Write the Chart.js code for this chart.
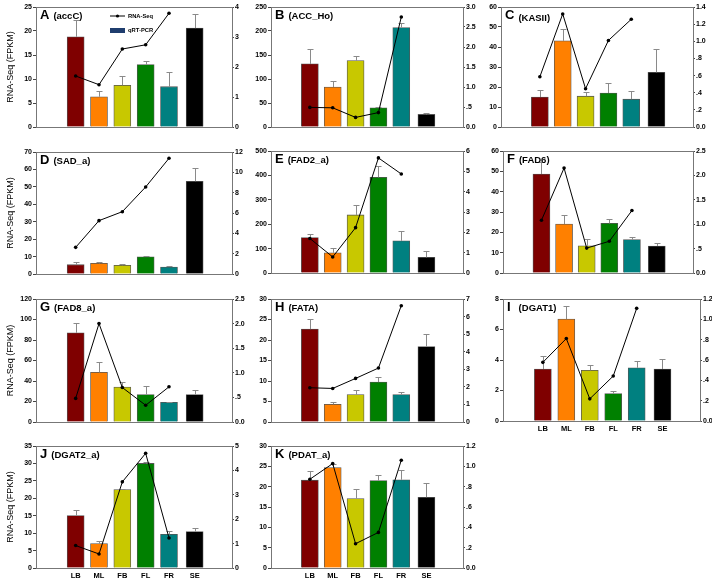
<!DOCTYPE html>
<html>
<head>
<meta charset="utf-8">
<script src="https://cdn.jsdelivr.net/npm/chart.js@4.4.1/dist/chart.umd.min.js"></script>
<style>
  body { margin: 0; background: #fff; width: 712px; height: 583px; position: relative; overflow: hidden; }
  canvas { position: absolute; }
</style>
</head>
<body>
<script>
// tissues / stages
const stages = ['LB', 'ML', 'FB', 'FL', 'FR', 'SE'];
const barColors = ['#7f0000', '#ff8000', '#c8c800', '#008000', '#008080', '#000000'];

// bars (left axis, FPKM), their error and the line (right axis)
const accC_bar = [18.8, 6.3, 8.7, 13.0, 8.4, 20.6];
const accC_err = [3.5, 1.3, 2.0, 0.8, 3.0, 3.0];
const accC_line = [1.70, 1.41, 2.60, 2.74, 3.79];

const accHo_bar = [131.5, 83.3, 138.4, 40, 207.3, 26.2];
const accHo_err = [31, 12.4, 9.6, 2, 10.3, 3.4];
const accHo_line = [0.49, 0.48, 0.24, 0.36, 2.75];

const kasII_bar = [15.0, 43.1, 15.4, 17.0, 13.9, 27.3];
const kasII_err = [3.3, 6, 2, 5.1, 4.1, 11.9];
const kasII_line = [0.586, 1.319, 0.447, 1.01, 1.257];

const sad_bar = [5.35, 6.1, 5.0, 9.9, 4.0, 53.2];
const sad_err = [1.3, 1.0, 0.5, 0.4, 0.4, 7.8];
const sad_line = [2.62, 5.25, 6.13, 8.56, 11.38];

const fad2_bar = [145, 83, 238, 392, 132, 64];
const fad2_err = [15, 19, 42, 48, 41, 27];
const fad2_line = [1.70, 0.79, 2.23, 5.66, 4.87];

const fad6_bar = [48.7, 24.1, 13.4, 24.4, 16.4, 13.3];
const fad6_err = [6, 4.3, 3.5, 2.2, 1.5, 1.6];
const fad6_line = [1.08, 2.15, 0.51, 0.65, 1.28];

const fad8_bar = [87, 48.4, 34, 26.8, 19.3, 26.8];
const fad8_err = [9.5, 9.8, 5.2, 7.9, 0.6, 4.9];
const fad8_line = [0.48, 2.0, 0.70, 0.34, 0.715];

const fata_bar = [22.65, 4.33, 6.7, 9.73, 6.7, 18.4];
const fata_err = [2.45, 0.6, 1.0, 1.2, 0.5, 3.1];
const fata_line = [1.95, 1.91, 2.48, 3.07, 6.62];

const dgat1_bar = [3.41, 6.68, 3.32, 1.80, 3.49, 3.41];
const dgat1_err = [0.83, 0.88, 0.35, 0.2, 0.42, 0.63];
const dgat1_line = [0.577, 0.811, 0.218, 0.442, 1.108];

const dgat2_bar = [15.05, 7.0, 22.5, 30.0, 9.68, 10.45];
const dgat2_err = [1.55, 0.77, 0.3, 0.3, 1.0, 1.15];
const dgat2_line = [0.92, 0.575, 3.53, 4.70, 1.23];

const pdat_bar = [21.6, 24.7, 17.1, 21.5, 21.7, 17.4];
const pdat_err = [2.3, 0.8, 2.3, 1.3, 2.3, 3.5];
const pdat_line = [0.873, 1.027, 0.239, 0.35, 1.06];

// layout: slot of each stage on the x axis (SE set a bit apart)
const stageX = [1, 2, 3, 4, 5, 6.1];
const FONT = "'Liberation Sans', Arial, sans-serif";
const LEFT_W = 36, RIGHT_W = 28, TOP_PAD = 8, BOTTOM_H = 16;

const panels = [
  { id: 'A', gene: '(accC)', bar: accC_bar, err: accC_err, line: accC_line, yMax: 25, yStep: 5, rMax: 4, rStep: 1, rect: [36, 7, 232, 127], title: true, legend: true },
  { id: 'B', gene: '(ACC_Ho)', bar: accHo_bar, err: accHo_err, line: accHo_line, yMax: 250, yStep: 50, rMax: 3, rStep: 0.5, rect: [271, 7, 463, 127] },
  { id: 'C', gene: '(KASII)', bar: kasII_bar, err: kasII_err, line: kasII_line, yMax: 60, yStep: 10, rMax: 1.4, rStep: 0.2, rect: [501, 7, 693, 127], dy: 2 },
  { id: 'D', gene: '(SAD_a)', bar: sad_bar, err: sad_err, line: sad_line, yMax: 70, yStep: 10, rMax: 12, rStep: 2, rect: [36, 152, 232, 274], title: true },
  { id: 'E', gene: '(FAD2_a)', bar: fad2_bar, err: fad2_err, line: fad2_line, yMax: 500, yStep: 100, rMax: 6, rStep: 1, rect: [271, 151, 463, 273] },
  { id: 'F', gene: '(FAD6)', bar: fad6_bar, err: fad6_err, line: fad6_line, yMax: 60, yStep: 10, rMax: 2.5, rStep: 0.5, rect: [503, 151, 693, 273] },
  { id: 'G', gene: '(FAD8_a)', bar: fad8_bar, err: fad8_err, line: fad8_line, yMax: 120, yStep: 20, rMax: 2.5, rStep: 0.5, rect: [36, 299, 232, 422], title: true },
  { id: 'H', gene: '(FATA)', bar: fata_bar, err: fata_err, line: fata_line, yMax: 30, yStep: 5, rMax: 7, rStep: 1, rect: [271, 299, 463, 422] },
  { id: 'I', gene: '(DGAT1)', bar: dgat1_bar, err: dgat1_err, line: dgat1_line, yMax: 8, yStep: 2, rMax: 1.2, rStep: 0.2, rect: [503, 299, 700, 421], xLabels: true, gap: 8 },
  { id: 'J', gene: '(DGAT2_a)', bar: dgat2_bar, err: dgat2_err, line: dgat2_line, yMax: 35, yStep: 5, rMax: 5, rStep: 1, rect: [36, 446, 232, 568], title: true, xLabels: true },
  { id: 'K', gene: '(PDAT_a)', bar: pdat_bar, err: pdat_err, line: pdat_line, yMax: 30, yStep: 5, rMax: 1.2, rStep: 0.2, rect: [271, 446, 463, 568], xLabels: true }
];

function fmt(v, step) {
  v = Math.round(v * 1000) / 1000;
  if (Number.isInteger(step)) return String(Math.round(v));
  let s = v.toFixed(1);
  if (v > 0 && v < 1) s = s.slice(1);
  return s;
}

// frame, error bars, panel label and legend
const decor = {
  id: 'decor',
  afterDatasetDraw(chart, args) {
    if (args.index !== 0) return;
    const p = chart.options.plugins.decor.panel;
    const xs = chart.scales.x, ys = chart.scales.y, ctx = chart.ctx;
    ctx.save();
    ctx.strokeStyle = '#8a8a8a';
    ctx.lineWidth = 1;
    p.bar.forEach((v, i) => {
      const x = Math.round(xs.getPixelForValue(stageX[i])) + 0.5;
      const y0 = ys.getPixelForValue(v);
      const y1 = Math.round(ys.getPixelForValue(v + p.err[i])) + 0.5;
      ctx.beginPath();
      ctx.moveTo(x, y0); ctx.lineTo(x, y1);
      ctx.moveTo(x - 3, y1); ctx.lineTo(x + 3, y1);
      ctx.stroke();
    });
    ctx.restore();
  },
  afterDraw(chart) {
    const p = chart.options.plugins.decor.panel;
    const a = chart.chartArea, ctx = chart.ctx;
    ctx.save();
    ctx.strokeStyle = '#777';
    ctx.lineWidth = 1;
    ctx.strokeRect(Math.round(a.left) + 0.5, Math.round(a.top) + 0.5, Math.round(a.right - a.left), Math.round(a.bottom - a.top));
    ctx.fillStyle = '#000';
    ctx.textBaseline = 'alphabetic';
    ctx.font = 'bold 13px ' + FONT;
    const lx = a.left + 4, ly = a.top + 12;
    ctx.fillText(p.id, lx, ly);
    const w = ctx.measureText(p.id).width;
    ctx.font = 'bold 9.5px ' + FONT;
    ctx.fillText(p.gene, lx + w + (p.gap || 4), ly + (p.dy || 0));
    if (p.legend) {
      const x0 = a.left + 74, y0 = a.top + 9;
      ctx.strokeStyle = '#000';
      ctx.beginPath(); ctx.moveTo(x0, y0); ctx.lineTo(x0 + 15, y0); ctx.stroke();
      ctx.beginPath(); ctx.arc(x0 + 7.5, y0, 1.6, 0, Math.PI * 2); ctx.fill();
      ctx.fillStyle = '#1f3d6e';
      ctx.fillRect(x0, y0 + 12, 15, 5);
      ctx.fillStyle = '#000';
      ctx.font = 'bold 5.8px ' + FONT;
      ctx.textBaseline = 'middle';
      ctx.fillText('RNA-Seq', x0 + 18, y0);
      ctx.fillText('qRT-PCR', x0 + 18, y0 + 14.5);
    }
    ctx.restore();
  }
};

panels.forEach(p => {
  const [L, T, R, B] = p.rect;
  const cv = document.createElement('canvas');
  const cw = (R - L) + LEFT_W + RIGHT_W, ch = (B - T) + TOP_PAD + BOTTOM_H;
  cv.width = cw; cv.height = ch;
  cv.style.left = (L - LEFT_W) + 'px';
  cv.style.top = (T - TOP_PAD) + 'px';
  cv.style.width = cw + 'px'; cv.style.height = ch + 'px';
  document.body.appendChild(cv);

  const tickFont = { family: FONT, size: 7, weight: 'bold' };
  new Chart(cv.getContext('2d'), {
    data: {
      datasets: [
        {
          type: 'bar',
          data: p.bar.map((v, i) => ({ x: stageX[i], y: v })),
          yAxisID: 'y',
          backgroundColor: barColors,
          borderColor: '#555',
          borderWidth: 0.8,
          barThickness: 17,
          order: 1
        },
        {
          type: 'line',
          data: p.line.map((v, i) => ({ x: stageX[i], y: v })),
          yAxisID: 'y2',
          borderColor: '#000',
          borderWidth: 1,
          pointRadius: 1.8,
          pointBackgroundColor: '#000',
          pointBorderWidth: 0,
          tension: 0,
          order: 0
        }
      ]
    },
    options: {
      responsive: false,
      animation: false,
      devicePixelRatio: 1,
      layout: { padding: { top: TOP_PAD, left: 0, right: 0, bottom: 0 } },
      plugins: { legend: { display: false }, tooltip: { enabled: false }, decor: { panel: p } },
      scales: {
        x: {
          type: 'linear', min: 0, max: 7,
          afterBuildTicks: s => { s.ticks = stageX.map(v => ({ value: v })); },
          afterFit: s => { s.height = BOTTOM_H; },
          grid: { display: false, drawTicks: false },
          border: { display: true, color: '#777' },
          ticks: {
            display: !!p.xLabels, autoSkip: false, maxRotation: 0, padding: 3,
            color: '#000', font: { family: FONT, size: 7.5, weight: 'bold' },
            callback: (v, i) => stages[i]
          }
        },
        y: {
          position: 'left', min: 0, max: p.yMax,
          afterFit: s => { s.width = LEFT_W; },
          grid: { drawOnChartArea: false, drawTicks: true, tickLength: 3, color: '#444' },
          border: { display: true, color: '#777' },
          ticks: { stepSize: p.yStep, padding: 1, color: '#000', font: tickFont, callback: v => fmt(v, p.yStep) },
          title: {
            display: !!p.title, text: 'RNA-Seq (FPKM)', color: '#000',
            font: { family: FONT, size: 9 }, padding: { top: 5, bottom: 0 }
          }
        },
        y2: {
          position: 'right', min: 0, max: p.rMax,
          afterFit: s => { s.width = RIGHT_W; },
          grid: { drawOnChartArea: false, drawTicks: true, tickLength: 2, color: '#444' },
          border: { display: true, color: '#777' },
          ticks: { stepSize: p.rStep, padding: 1, color: '#000', font: tickFont, callback: v => fmt(v, p.rStep) }
        }
      }
    },
    plugins: [decor]
  });
});
</script>
</body>
</html>
